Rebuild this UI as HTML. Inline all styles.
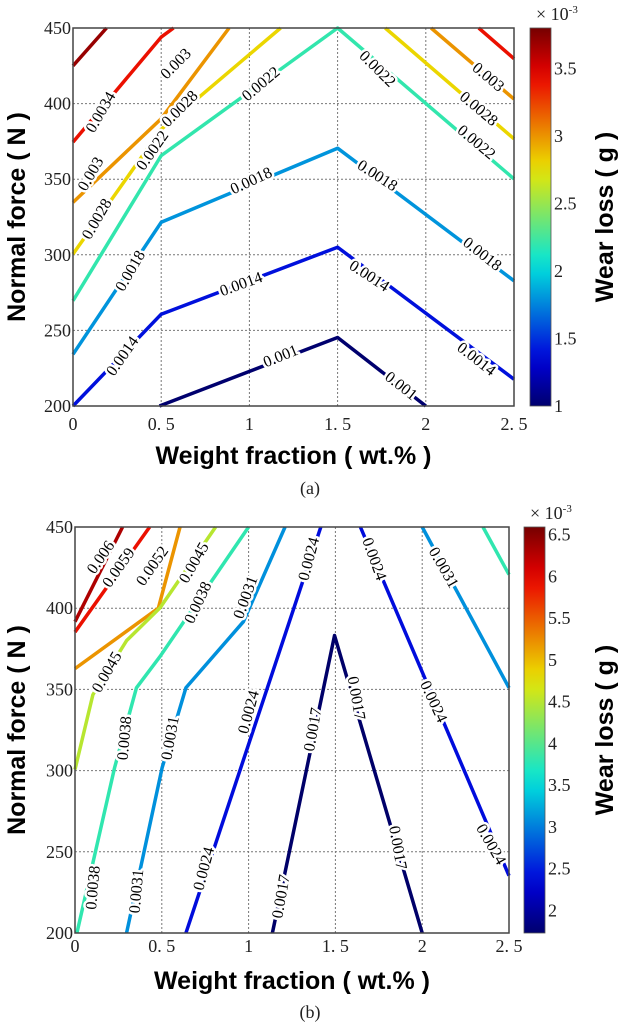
<!DOCTYPE html>
<html><head><meta charset="utf-8"><style>
html,body{margin:0;padding:0;background:#fff}
svg{display:block}
.tk{font-family:"Liberation Serif",serif;font-size:18px;fill:#222}
.ttl{font-family:"Liberation Sans",sans-serif;font-weight:bold;font-size:25px;fill:#000}
.cl{font-family:"Liberation Serif",serif;font-size:16px;fill:#000;stroke:#fff;stroke-width:5px;paint-order:stroke;stroke-linejoin:round}
</style></head><body>
<svg id="fig" width="621" height="1024" viewBox="0 0 621 1024" xmlns="http://www.w3.org/2000/svg"></svg>
<script>
// ---- Chart (a) data ----
const xTicks=[0,0.5,1,1.5,2,2.5];
const xTickLabels=["0","0. 5","1","1. 5","2","2. 5"];
const yTicks=[200,250,300,350,400,450];
const aLevels=[0.0037,0.0034,0.003,0.0028,0.0022,0.0018,0.0014,0.001,0.0028,0.003,0.0034];
const aLines=[
 [[0,425],[0.19,450]],
 [[0,374.5],[0.5,444],[0.57,450]],
 [[0,334.7],[0.5,390],[0.885,450]],
 [[0,300.5],[0.5,383],[1.177,450]],
 [[0,269.6],[0.5,365.6],[1.5,450],[2.5,350.2]],
 [[0,234.2],[0.5,321.5],[1.5,370.5],[2.5,282.8]],
 [[0,200],[0.5,260.7],[1.5,305],[2.5,217.7]],
 [[0.49,200],[1.5,245.3],[2.0,200]],
 [[1.77,450],[2.5,376.7]],
 [[2.03,450],[2.5,403]],
 [[2.3,450],[2.5,429.7]]
];
const aLabelText=["0.0034","0.003","0.003","0.0028","0.0028","0.0022","0.0022","0.0022","0.0022","0.0028","0.003","0.0018","0.0018","0.0018","0.0018","0.0014","0.0014","0.0014","0.0014","0.001","0.001"];
const aLabelX=[0.157,0.583,0.1,0.605,0.135,0.45,1.065,1.726,2.287,2.3,2.354,0.325,1.01,1.726,2.32,0.28,0.953,1.68,2.287,1.177,1.86];
const aLabelY=[394.3,426.4,353.5,396.6,323.7,369,413,423,374.5,396.6,417.5,289.4,349,352.4,300.5,233,280.6,286,231,233,213.3];
const aLabelAngle=[-60,-45,-60,-45,-60,-55,-40,45,40,40,40,-60,-25,33,38,-55,-20,33,38,-22,38];
const aCbarTicks=[1,1.5,2,2.5,3,3.5];
const aCbarTickLabels=["1","1.5","2","2.5","3","3.5"];
const aCbarRange=[1,3.8];
// ---- Chart (b) data ----
const bLevels=[0.0063,0.0059,0.0052,0.0045,0.0038,0.0031,0.0024,0.0024,0.0017,0.0031,0.0038];
const bLines=[
 [[0,391.7],[0.274,450]],
 [[0,385.3],[0.43,450]],
 [[0,362.8],[0.48,400],[0.605,450]],
 [[0,300.7],[0.103,346.7],[0.297,380],[0.49,400.3],[0.81,450]],
 [[0.011,200],[0.228,301.8],[0.354,351],[0.49,370.3],[1.0,450]],
 [[0.297,200],[0.502,301.8],[0.639,351],[0.97,391.7],[1.21,450]],
 [[0.639,200],[1.416,450]],
 [[1.644,450],[2.5,235.3]],
 [[1.137,200],[1.495,383.2],[2.0,200]],
 [[2.0,450],[2.5,351]],
 [[2.35,450],[2.5,420.7]]
];
const bLabelText=["0.006","0.0059","0.0052","0.0045","0.0045","0.0038","0.0038","0.0038","0.0031","0.0031","0.0031","0.0024","0.0024","0.0024","0.0024","0.0024","0.0024","0.0031","0.0017","0.0017","0.0017","0.0017"];
const bLabelX=[0.148,0.251,0.445,0.685,0.183,0.708,0.285,0.103,0.982,0.548,0.354,1.347,1.0,0.742,1.724,2.066,2.397,2.123,1.37,1.187,1.621,1.86];
const bLabelY=[431.4,425,426,428,360.7,403.5,320,227.9,406.7,320,225.7,430.3,336,239.6,430.3,342.5,254.6,425,325.3,222.5,344.6,252.5];
const bLabelAngle=[-55,-55,-55,-60,-60,-65,-85,-85,-70,-80,-85,-75,-75,-75,70,65,60,60,-80,-80,80,80];
const bCbarTicks=[2,2.5,3,3.5,4,4.5,5,5.5,6,6.5];
const bCbarTickLabels=["2","2.5","3","3.5","4","4.5","5","5.5","6","6.5"];
const bCbarRange=[1.73,6.59];

const NS="http://www.w3.org/2000/svg";
const svg=document.getElementById('fig');
function mk(tag,attrs,parent){const e=document.createElementNS(NS,tag);for(const k in attrs)e.setAttribute(k,attrs[k]);(parent||svg).appendChild(e);return e;}
function clamp(v){return Math.max(0,Math.min(1,v));}
function jet(t){const r=clamp(1.5-Math.abs(4*t-3)),g=clamp(1.5-Math.abs(4*t-2)),b=clamp(1.5-Math.abs(4*t-1));
 return 'rgb('+Math.round(r*235)+','+Math.round(g*230)+','+Math.round(b*220)+')';}

function drawChart(c){
 const g=mk('g',{});
 
 
 const sx=v=>c.L+(v-0)/2.5*(c.R-c.L);
 const sy=v=>c.B-(v-200)/250*(c.B-c.T);
 xTicks.forEach((t,i)=>{ if(i>0&&i<xTicks.length-1){const l=mk('line',{x1:sx(t),x2:sx(t),y1:c.T,y2:c.B,stroke:'#777','stroke-width':1,'stroke-dasharray':'2,2'},g);
  }
  const tx=mk('text',{x:sx(t),y:c.xty,'text-anchor':'middle',class:'tk'},g);tx.textContent=xTickLabels[i];
  });
 yTicks.forEach((t,i)=>{ if(i>0&&i<yTicks.length-1){const l=mk('line',{x1:c.L,x2:c.R,y1:sy(t),y2:sy(t),stroke:'#777','stroke-width':1,'stroke-dasharray':'2,2'},g);
  }
  const tx=mk('text',{x:c.L-2,y:sy(t)+6,'text-anchor':'end',class:'tk'},g);tx.textContent=String(t);
  });
 c.lines.forEach((pts,i)=>{const t=(c.levels[i]*1000-c.crange[0])/(c.crange[1]-c.crange[0]);
  const p=mk('polyline',{points:pts.map(q=>sx(q[0])+','+sy(q[1])).join(' '),fill:'none',stroke:jet(t),'stroke-width':3.5,'stroke-linejoin':'round'},g);
  });
 c.lt.forEach((s,i)=>{const x=sx(c.lx[i]),y=sy(c.ly[i]);
  const tx=mk('text',{x:x,y:y+5,'text-anchor':'middle',class:'cl',transform:'rotate('+c.la[i]+' '+x+' '+y+')'},g);tx.textContent=s;
  });
 const fr=mk('rect',{x:c.L,y:c.T,width:c.R-c.L,height:c.B-c.T,fill:'none',stroke:'#444','stroke-width':1.5},g);
 
 const gid='grad'+c.name;const gr=mk('linearGradient',{id:gid,x1:0,y1:1,x2:0,y2:0},mk('defs',{},g));
 for(let k=0;k<=20;k++){mk('stop',{offset:k/20,'stop-color':jet(k/20)},gr);}
 const cb=mk('rect',{x:c.cbx,y:c.T,width:21,height:c.B-c.T,fill:'url(#'+gid+')',stroke:'#555','stroke-width':0.8},g);
 
 const cy=v=>c.B-(v-c.crange[0])/(c.crange[1]-c.crange[0])*(c.B-c.T);
 c.ct.forEach((t,i)=>{const tx=mk('text',{x:c.cbx+24,y:cy(t)+6,class:'tk'},g);tx.textContent=c.ctl[i];
  });
 const ex=mk('text',{x:c.cbx+6,y:c.T-8,class:'tk','font-size':'19'},g);ex.innerHTML='× 10<tspan dy="-7" font-size="11">-3</tspan>';
 
 const xt=mk('text',{x:(c.L+c.R)/2,y:c.xtt,'text-anchor':'middle',class:'ttl'},g);xt.textContent='Weight fraction ( wt.% )';
 
 const ym=(c.T+c.B)/2;
 const yt=mk('text',{x:25,y:ym,'text-anchor':'middle',class:'ttl',transform:'rotate(-90 25 '+ym+')'},g);yt.textContent='Normal force ( N )';
 
 const ct=mk('text',{x:613,y:ym,'text-anchor':'middle',class:'ttl',transform:'rotate(-90 613 '+ym+')'},g);ct.textContent='Wear loss ( g )';
 
 const cap=mk('text',{x:310,y:c.cap,'text-anchor':'middle',class:'tk','font-size':'17'},g);cap.textContent=c.capt;
 
}
drawChart({name:'chart-a',L:73,R:514,T:28,B:406,xty:430,xtt:464,cbx:530,cap:494,capt:'(a)',
 levels:aLevels,lines:aLines,lt:aLabelText,lx:aLabelX,ly:aLabelY,la:aLabelAngle,ct:aCbarTicks,ctl:aCbarTickLabels,crange:aCbarRange});
drawChart({name:'chart-b',L:75,R:509,T:527,B:933,xty:952,xtt:989,cbx:524,cap:1018,capt:'(b)',
 levels:bLevels,lines:bLines,lt:bLabelText,lx:bLabelX,ly:bLabelY,la:bLabelAngle,ct:bCbarTicks,ctl:bCbarTickLabels,crange:bCbarRange});
</script>
</body></html>
